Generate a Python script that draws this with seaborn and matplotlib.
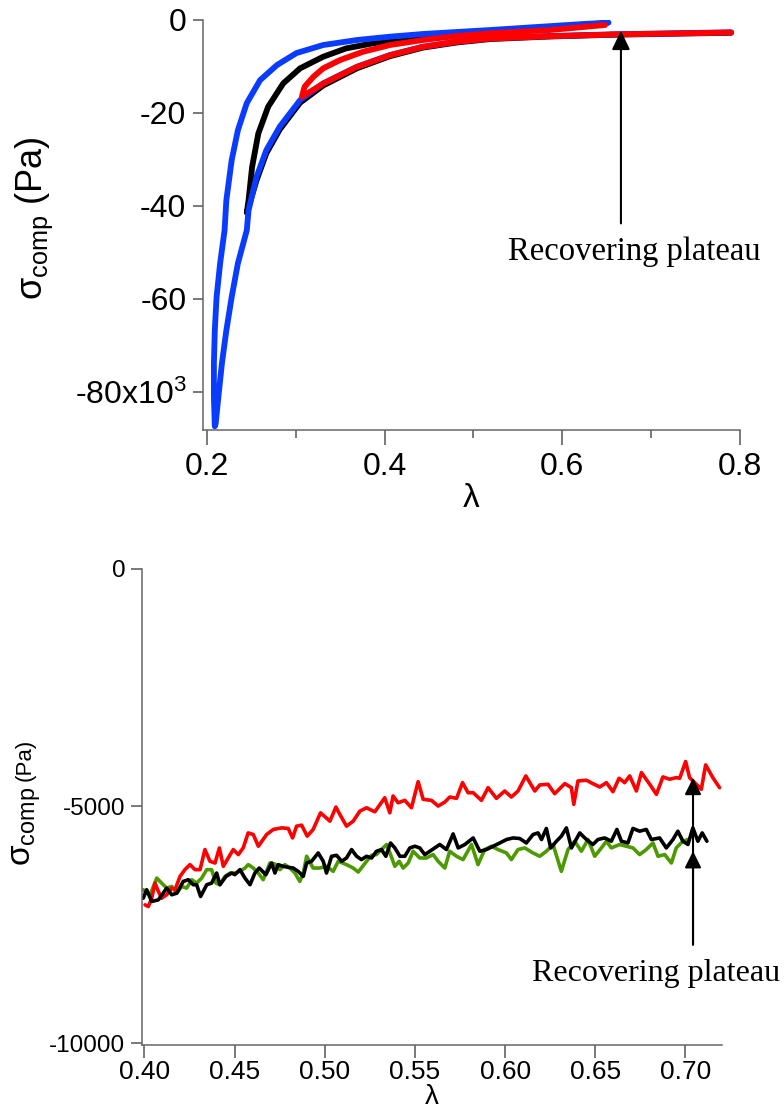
import matplotlib
matplotlib.use('Agg')
import matplotlib.pyplot as plt
import seaborn as sns
import pandas as pd

# ---- top panel: full compression cycles (lambda, sigma in Pa) ----
blue_lam = [0.790, 0.661, 0.586, 0.519, 0.481, 0.443, 0.406, 0.369, 0.331, 0.305,
            0.282, 0.267, 0.256, 0.247, 0.245, 0.235, 0.228, 0.222, 0.217, 0.213,
            0.210, 0.209, 0.208, 0.208, 0.209, 0.211, 0.215, 0.220, 0.222, 0.228,
            0.235, 0.245, 0.260, 0.279, 0.301, 0.331, 0.369, 0.406, 0.443, 0.519,
            0.549, 0.624, 0.652]
blue_sig = [-2650, -3080, -3450, -3950, -4680, -5760, -7550, -10070, -13650, -17250,
            -23000, -28030, -33780, -40960, -45280, -52390, -59660, -66840, -73950, -81220,
            -86890, -87500, -81220, -73950, -66840, -59660, -52390, -45280, -38810, -30180,
            -23720, -17890, -12940, -9700, -7110, -5390, -4310, -3600, -3020, -2160,
            -1790, -860, -580]

black_lam = [0.790, 0.661, 0.586, 0.519, 0.481, 0.443, 0.406, 0.369, 0.331, 0.305,
             0.282, 0.267, 0.256, 0.245, 0.247, 0.251, 0.258, 0.269, 0.286, 0.305,
             0.331, 0.357, 0.387, 0.443, 0.519, 0.586, 0.651]
black_sig = [-2750, -3150, -3550, -4100, -4850, -5950, -7800, -10400, -14100, -17800,
             -23600, -28700, -34500, -41500, -38810, -31630, -24430, -18690, -13650, -10410,
             -7910, -6100, -5020, -3950, -2590, -1830, -580]

red_lam = [0.790, 0.661, 0.586, 0.519, 0.481, 0.443, 0.406, 0.369, 0.331, 0.307,
           0.310, 0.320, 0.331, 0.350, 0.376, 0.406, 0.443, 0.481, 0.519, 0.586, 0.648]
red_sig = [-2700, -3100, -3500, -4000, -4700, -5800, -7600, -10100, -13700, -16540,
           -14380, -12220, -10410, -8620, -6830, -5390, -4310, -3450, -2870, -2160, -1080]

top_xticks = [0.2, 0.4, 0.6, 0.8]
top_xminor = [0.3, 0.5, 0.7]
top_yticks = [0, -20000, -40000, -60000, -80000]
top_ylabels = ['0', '-20', '-40', '-60', '-80x10$^{3}$']

# ---- bottom panel: zoom on the recovering plateau ----
r_lam = [0.4004, 0.4022, 0.4041, 0.4059, 0.4078, 0.4096, 0.4124, 0.4152, 0.4170, 0.4198,
         0.4225, 0.4253, 0.4281, 0.4309, 0.4336, 0.4364, 0.4392, 0.4416, 0.4438, 0.4465,
         0.4493, 0.4521, 0.4548, 0.4576, 0.4604, 0.4632, 0.4678, 0.4715, 0.4761, 0.4798,
         0.4822, 0.4844, 0.4872, 0.4903, 0.4936, 0.4977, 0.5029, 0.5062, 0.5084, 0.5121,
         0.5158, 0.5195, 0.5232, 0.5278, 0.5333, 0.5361, 0.5379, 0.5407, 0.5444, 0.5481,
         0.5518, 0.5546, 0.5592, 0.5629, 0.5666, 0.5693, 0.5731, 0.5764, 0.5795, 0.5823,
         0.5869, 0.5906, 0.5952, 0.5998, 0.6035, 0.6072, 0.6115, 0.6165, 0.6192, 0.6238,
         0.6275, 0.6331, 0.6368, 0.6381, 0.6404, 0.6451, 0.6487, 0.6525, 0.6562, 0.6598,
         0.6632, 0.6663, 0.6691, 0.6728, 0.6756, 0.6802, 0.6839, 0.6875, 0.6912, 0.6949,
         0.6968, 0.7001, 0.7023, 0.7088, 0.7112, 0.7152, 0.7189]
r_sig = [-7084, -7120, -6944, -6626, -6802, -6944, -6872, -6732, -6766, -6484,
         -6342, -6236, -6342, -6342, -5918, -6166, -6202, -5884, -6272, -6096,
         -5918, -6024, -5884, -5567, -5601, -5848, -5601, -5494, -5461, -5473,
         -5673, -5425, -5403, -5636, -5494, -5143, -5319, -5022, -5177, -5425,
         -5319, -5107, -5037, -5122, -4825, -5143, -4789, -4931, -4880, -5037,
         -4486, -4859, -4880, -5001, -4916, -4810, -4838, -4507, -4719, -4719,
         -4880, -4613, -4838, -4683, -4810, -4683, -4365, -4683, -4556, -4541,
         -4740, -4528, -4613, -4965, -4471, -4456, -4528, -4598, -4507, -4698,
         -4414, -4507, -4365, -4683, -4295, -4541, -4753, -4386, -4435, -4401,
         -4414, -4062, -4401, -4647, -4132, -4401, -4613]

g_lam = [0.3994, 0.4032, 0.4069, 0.4096, 0.4124, 0.4152, 0.4180, 0.4207, 0.4235, 0.4263,
         0.4290, 0.4318, 0.4346, 0.4373, 0.4397, 0.4419, 0.4447, 0.4475, 0.4502, 0.4530,
         0.4558, 0.4576, 0.4604, 0.4632, 0.4659, 0.4696, 0.4724, 0.4752, 0.4779, 0.4807,
         0.4835, 0.4862, 0.4881, 0.4900, 0.4936, 0.4973, 0.5010, 0.5047, 0.5075, 0.5121,
         0.5158, 0.5186, 0.5232, 0.5260, 0.5287, 0.5315, 0.5343, 0.5365, 0.5389, 0.5413,
         0.5435, 0.5463, 0.5490, 0.5527, 0.5564, 0.5601, 0.5629, 0.5666, 0.5693, 0.5731,
         0.5767, 0.5814, 0.5850, 0.5887, 0.5925, 0.5961, 0.6008, 0.6035, 0.6072, 0.6109,
         0.6155, 0.6192, 0.6229, 0.6266, 0.6312, 0.6349, 0.6386, 0.6423, 0.6460, 0.6497,
         0.6534, 0.6562, 0.6589, 0.6635, 0.6672, 0.6709, 0.6746, 0.6783, 0.6820, 0.6848,
         0.6885, 0.6922, 0.6949, 0.6986, 0.7014]
g_sig = [-6766, -6872, -6520, -6626, -6732, -6696, -6838, -6696, -6732, -6554,
         -6626, -6520, -6342, -6342, -6626, -6660, -6484, -6414, -6414, -6378,
         -6308, -6236, -6308, -6414, -6554, -6202, -6223, -6342, -6236, -6308,
         -6414, -6590, -6414, -6060, -6308, -6308, -6272, -6378, -6166, -6236,
         -6308, -6393, -6166, -6039, -6024, -5918, -5812, -6024, -6272, -6166,
         -6308, -6202, -5954, -6096, -6096, -6024, -6166, -6308, -5954, -6060,
         -6130, -5812, -6236, -5918, -5848, -5918, -5990, -6130, -5918, -5884,
         -5990, -6060, -5954, -5812, -6378, -5918, -5742, -5954, -5706, -6060,
         -5884, -5742, -5884, -5812, -5848, -5884, -6024, -5918, -5779, -6060,
         -6024, -6202, -5884, -5742, -5706]

k_lam = [0.3994, 0.4013, 0.4041, 0.4078, 0.4124, 0.4152, 0.4180, 0.4216, 0.4244, 0.4271,
         0.4290, 0.4312, 0.4346, 0.4373, 0.4401, 0.4419, 0.4453, 0.4484, 0.4502, 0.4530,
         0.4558, 0.4586, 0.4613, 0.4637, 0.4674, 0.4706, 0.4724, 0.4742, 0.4770, 0.4798,
         0.4825, 0.4853, 0.4881, 0.4900, 0.4927, 0.4964, 0.4992, 0.5010, 0.5038, 0.5066,
         0.5094, 0.5121, 0.5149, 0.5177, 0.5204, 0.5232, 0.5260, 0.5287, 0.5315, 0.5339,
         0.5365, 0.5389, 0.5417, 0.5444, 0.5472, 0.5500, 0.5527, 0.5555, 0.5583, 0.5610,
         0.5638, 0.5675, 0.5712, 0.5740, 0.5777, 0.5823, 0.5860, 0.5897, 0.5934, 0.5971,
         0.6008, 0.6044, 0.6081, 0.6118, 0.6155, 0.6183, 0.6202, 0.6229, 0.6253, 0.6285,
         0.6312, 0.6340, 0.6368, 0.6414, 0.6451, 0.6487, 0.6515, 0.6552, 0.6589, 0.6620,
         0.6645, 0.6681, 0.6709, 0.6746, 0.6783, 0.6811, 0.6857, 0.6894, 0.6931, 0.6958,
         0.6986, 0.7014, 0.7041, 0.7069, 0.7093, 0.7119]
k_sig = [-6944, -6766, -7014, -6978, -6732, -6872, -6838, -6590, -6554, -6660,
         -6660, -6908, -6660, -6626, -6414, -6660, -6484, -6414, -6448, -6342,
         -6520, -6660, -6414, -6308, -6448, -6202, -6414, -6236, -6272, -6293,
         -6308, -6378, -6484, -6202, -6166, -5990, -6166, -6414, -6060, -6039,
         -6166, -6096, -5918, -6060, -6130, -6060, -6096, -5954, -5918, -6060,
         -5779, -5884, -6060, -6060, -5884, -5848, -5884, -6024, -5954, -5884,
         -5812, -5918, -5588, -5884, -5812, -5673, -5954, -5918, -5848, -5779,
         -5706, -5673, -5685, -5779, -5601, -5567, -5706, -5473, -5884, -5742,
         -5636, -5461, -5884, -5567, -5706, -5812, -5706, -5673, -5742, -5494,
         -5742, -5779, -5473, -5531, -5494, -5706, -5673, -5884, -5706, -5531,
         -5742, -5812, -5461, -5742, -5567, -5742]

bot_xticks = [0.40, 0.45, 0.50, 0.55, 0.60, 0.65, 0.70]
bot_yticks = [0, -5000, -10000]

BLUE = '#0a3cff'
RED = '#ff0000'
GREEN = '#4c9a00'
SPINE = '#666666'

sns.set_style('ticks')
plt.rcParams['font.family'] = ['Liberation Sans', 'DejaVu Sans']
plt.rcParams['mathtext.fontset'] = 'custom'
plt.rcParams['mathtext.rm'] = 'Liberation Sans'
plt.rcParams['mathtext.it'] = 'Liberation Sans:italic'
plt.rcParams['axes.edgecolor'] = SPINE
plt.rcParams['axes.linewidth'] = 1.1
plt.rcParams['text.color'] = 'black'
plt.rcParams['axes.labelcolor'] = 'black'

fig = plt.figure(figsize=(7.84, 11.17), dpi=100)
ax1 = fig.add_axes([0.2589, 0.6150, 0.6850, 0.3671])
ax2 = fig.add_axes([0.1811, 0.0645, 0.7392, 0.4261])

# top panel
for lam, sig, col in [(black_lam, black_sig, 'black'), (blue_lam, blue_sig, BLUE),
                      (red_lam, red_sig, RED)]:
    df = pd.DataFrame({'lam': lam, 'sig': sig})
    sns.lineplot(data=df, x='lam', y='sig', sort=False, estimator=None,
                 color=col, lw=4.2, ax=ax1)

ax1.set_xlim(0.1957, 0.8)
ax1.set_ylim(-88300, 0)
ax1.set_xticks(top_xticks)
ax1.set_xticklabels([str(t) for t in top_xticks])
ax1.set_xticks(top_xminor, minor=True)
ax1.set_yticks(top_yticks)
ax1.set_yticklabels(top_ylabels)
ax1.tick_params(axis='both', which='major', direction='out', width=1.1,
                color='#555555', labelcolor='black', labelsize=23, pad=5)
ax1.tick_params(axis='x', which='major', length=11)
ax1.tick_params(axis='x', which='minor', direction='out', length=6, width=1.1, color='#555555')
ax1.tick_params(axis='y', length=7)
ax1.set_xlabel('λ', fontsize=24)
ax1.set_ylabel(r'$\mathrm{\sigma}_{\mathrm{comp}}$ (Pa)', fontsize=26)
ax1.xaxis.set_label_coords(0.5, -0.13)
ax1.yaxis.set_label_coords(-0.276, 0.517)
ax1.annotate('', xy=(0.666, -2300), xytext=(0.666, -43800),
             arrowprops=dict(arrowstyle='-|>,head_length=1.15,head_width=0.55',
                             mutation_scale=10, color='black', lw=1.5,
                             shrinkA=0, shrinkB=0))
ax1.text(0.681, -50000, 'Recovering plateau', family='Liberation Serif',
         fontsize=23.5, ha='center', va='center', color='black')
sns.despine(ax=ax1)

# bottom panel
for lam, sig, col in [(g_lam, g_sig, GREEN), (r_lam, r_sig, RED), (k_lam, k_sig, 'black')]:
    df = pd.DataFrame({'lam': lam, 'sig': sig})
    sns.lineplot(data=df, x='lam', y='sig', sort=False, estimator=None,
                 color=col, lw=2.6, ax=ax2)

ax2.set_xlim(0.3987, 0.72)
ax2.set_ylim(-10040, 0)
ax2.set_xticks(bot_xticks)
ax2.set_xticklabels(['%.2f' % t for t in bot_xticks], fontsize=19)
ax2.set_yticks(bot_yticks)
ax2.set_yticklabels([str(t) for t in bot_yticks], fontsize=17.5)
ax2.tick_params(axis='both', direction='out', width=1.1, color='#555555',
                labelcolor='black', pad=4)
ax2.tick_params(axis='x', length=9, pad=2)
ax2.tick_params(axis='y', length=8)
ax2.set_xlabel('λ', fontsize=20)
ax2.xaxis.set_label_coords(0.5, -0.083)
ax2.set_ylabel('')
fig.text(31 / 784, 1 - 866 / 1117, r'$\mathrm{\sigma}_{\mathrm{comp}}$', rotation=90,
         rotation_mode='anchor', ha='left', va='baseline', fontsize=24)
fig.text(31 / 784, 1 - 781 / 1117, '(Pa)', rotation=90,
         rotation_mode='anchor', ha='left', va='baseline', fontsize=16)
for tip in [-4407, -5953]:
    ax2.annotate('', xy=(0.7042, tip), xytext=(0.7042, -7924),
                 arrowprops=dict(arrowstyle='-|>,head_length=1.0,head_width=0.5',
                                 mutation_scale=10, color='black', lw=1.5,
                                 shrinkA=0, shrinkB=0))
ax2.text(0.6835, -8540, 'Recovering plateau', family='Liberation Serif',
         fontsize=23, ha='center', va='center', color='black')
sns.despine(ax=ax2)

fig.savefig('out.png', dpi=100)
